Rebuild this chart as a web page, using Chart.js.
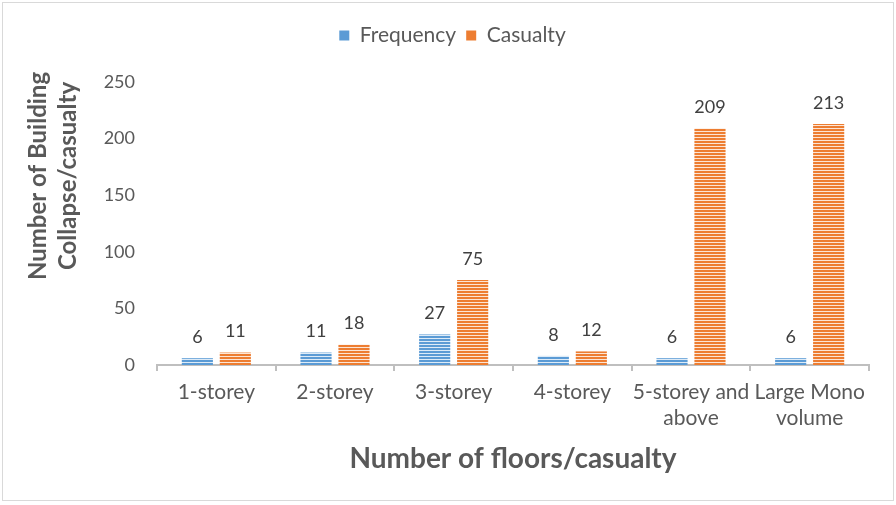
<!DOCTYPE html>
<html>
<head>
<meta charset="utf-8">
<script src="https://cdn.jsdelivr.net/npm/chart.js@4/dist/chart.umd.min.js"></script>
<style>
  html, body { margin: 0; padding: 0; background: #fff; }
  #wrap { position: relative; width: 896px; height: 505px; }
  #frame { position: absolute; left: 2px; top: 2px; right: 2px; bottom: 4px; border: 1px solid #d9d9d9; pointer-events: none; }
</style>
</head>
<body>
<div id="wrap">
  <canvas id="chart" width="896" height="505"></canvas>
  <div id="frame"></div>
</div>
<script>
// building collapse by storey count
var floorLabels = ['1-storey', '2-storey', '3-storey', '4-storey', ['5-storey and', 'above'], ['Large Mono', 'volume']];
var frequency = [6, 11, 27, 8, 6, 6];
var casualty = [11, 18, 75, 12, 209, 213];
var seriesNames = ['Frequency', 'Casualty'];
var seriesColors = ['#5b9bd5', '#ed7d31'];
var yTitleLines = ['Number of Building', 'Collapse/casualty'];
var xTitle = 'Number of floors/casualty';

var TEXT = '#595959';
var FONT = 'Lato, "Open Sans", sans-serif';

var ctx = document.getElementById('chart').getContext('2d');

// horizontal line fill, like the office "narrow horizontal" pattern
function stripes(color) {
  var c = document.createElement('canvas');
  c.width = 8; c.height = 3;
  var g = c.getContext('2d');
  g.fillStyle = color;
  g.fillRect(0, 0, 8, 3);
  g.fillStyle = 'rgba(255,255,255,0.8)';
  g.fillRect(0, 2, 8, 1);
  return ctx.createPattern(c, 'repeat');
}

// extra space between legend and plot
var legendGap = {
  id: 'legendGap',
  beforeLayout: function (chart) {
    var lg = chart.legend;
    if (!lg || lg._gapDone) return;
    var fit = lg.fit;
    lg.fit = function () { fit.call(this); this.height += 26; };
    lg._gapDone = true;
  }
};

// value printed above each bar
var barValues = {
  id: 'barValues',
  afterDatasetsDraw: function (chart) {
    var c = chart.ctx;
    c.save();
    c.font = '18px ' + FONT;
    c.fillStyle = '#404040';
    c.textAlign = 'center';
    c.textBaseline = 'middle';
    chart.data.datasets.forEach(function (ds, i) {
      chart.getDatasetMeta(i).data.forEach(function (bar, j) {
        c.fillText(String(ds.data[j]), bar.x, bar.y - 21);
      });
    });
    c.restore();
  }
};

// two-line rotated y title
var yTitle = {
  id: 'yTitle',
  afterDraw: function (chart) {
    var c = chart.ctx;
    c.save();
    c.font = 'bold 24px ' + FONT;
    c.fillStyle = TEXT;
    c.textAlign = 'center';
    c.textBaseline = 'middle';
    yTitleLines.forEach(function (t, i) {
      c.save();
      c.translate(38 + i * 30, 176);
      c.rotate(-Math.PI / 2);
      c.fillText(t, 0, 0);
      c.restore();
    });
    c.restore();
  }
};

new Chart(ctx, {
  type: 'bar',
  data: {
    labels: floorLabels,
    datasets: [
      { label: seriesNames[0], data: frequency, backgroundColor: stripes(seriesColors[0]), borderWidth: 0 },
      { label: seriesNames[1], data: casualty, backgroundColor: stripes(seriesColors[1]), borderWidth: 0 }
    ]
  },
  options: {
    responsive: false,
    animation: false,
    layout: { padding: { top: 15, left: 36, right: 27, bottom: 27 } },
    datasets: { bar: { categoryPercentage: 0.64, barPercentage: 0.82 } },
    plugins: {
      tooltip: { enabled: false },
      legend: {
        position: 'top',
        labels: {
          color: TEXT,
          font: { family: FONT, size: 21 },
          boxWidth: 10,
          boxHeight: 10,
          padding: 10,
          generateLabels: function (chart) {
            return chart.data.datasets.map(function (ds, i) {
              return {
                text: ds.label, fillStyle: seriesColors[i], strokeStyle: seriesColors[i],
                lineWidth: 0, fontColor: TEXT, datasetIndex: i
              };
            });
          }
        }
      }
    },
    scales: {
      x: {
        afterFit: function (s) { s.height = 113; },
        grid: { display: true, drawOnChartArea: false, drawTicks: true, tickLength: 6, color: '#bfbfbf', lineWidth: 2, offset: true },
        border: { display: true, color: '#bfbfbf', width: 2 },
        ticks: { color: TEXT, font: { family: FONT, size: 21, lineHeight: 1.25 }, padding: 8, maxRotation: 0, autoSkip: false },
        title: { display: true, text: xTitle, color: TEXT, font: { family: FONT, size: 28, weight: 'bold' }, padding: { top: 4, bottom: 2 } }
      },
      y: {
        min: 0,
        max: 250,
        afterFit: function (s) { s.width = 121; },
        grid: { display: false },
        border: { display: false },
        ticks: { stepSize: 50, color: TEXT, font: { family: FONT, size: 18 }, padding: 14 }
      }
    }
  },
  plugins: [legendGap, barValues, yTitle]
});
</script>
</body>
</html>
